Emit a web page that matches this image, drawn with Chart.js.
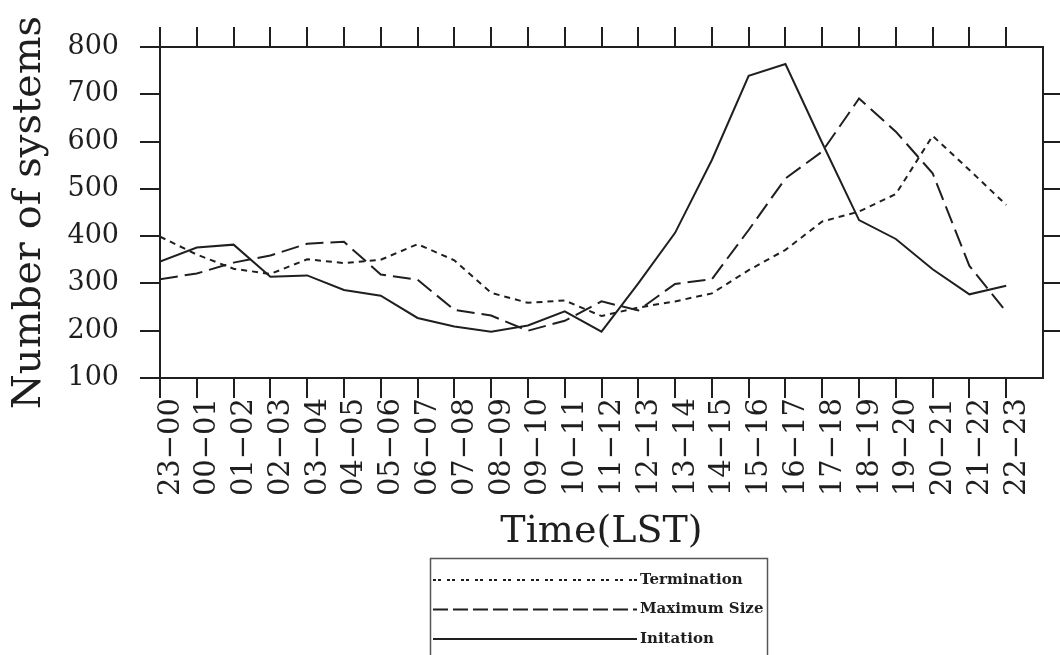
<!DOCTYPE html>
<html>
<head>
<meta charset="utf-8">
<script src="https://cdn.jsdelivr.net/npm/chart.js@4.4.1/dist/chart.umd.min.js"></script>
<style>
  html, body { margin: 0; padding: 0; background: #ffffff; }
  #wrap { width: 1060px; height: 655px; }
</style>
</head>
<body>
<div id="wrap"><canvas id="c" width="1060" height="655"></canvas></div>
<script>
// Hourly windows (local solar time)
const categories = [
  '23−00', '00−01', '01−02', '02−03', '03−04', '04−05', '05−06', '06−07',
  '07−08', '08−09', '09−10', '10−11', '11−12', '12−13', '13−14', '14−15',
  '15−16', '16−17', '17−18', '18−19', '19−20', '20−21', '21−22', '22−23'
];

// Number of systems per hour, by life-cycle stage
const termination = [399, 361, 331, 320, 351, 343, 350, 383, 349, 280, 259, 264,
                     231, 249, 262, 279, 328, 371, 431, 452, 489, 612, 540, 466];
const maximumSize = [309, 321, 344, 359, 384, 388, 319, 308, 244, 232, 200, 221,
                     262, 243, 299, 309, 413, 522, 579, 691, 621, 533, 337, 240];
const initiation  = [346, 376, 382, 314, 317, 286, 274, 227, 209, 198, 211, 241,
                     198, 300, 407, 561, 739, 764, 597, 434, 394, 330, 277, 295];

const yTicks = [100, 200, 300, 400, 500, 600, 700, 800];

const INK = '#1f1f1f';
const SERIF = "'DejaVu Serif', 'Liberation Serif', serif";
const HIDDEN = 'rgba(0,0,0,0)';

const asPoints = arr => arr.map((v, i) => ({ x: i, y: v }));
const xTickList = () => categories.map((c, i) => ({ value: i })).concat([{ value: categories.length }]);
const yTickList = () => yTicks.map(v => ({ value: v }));

// Horizontal axes: fixed height, no extra side padding from rotated labels
const fixHorizontal = h => s => { s.height = h; s.paddingLeft = 0; s.paddingRight = 0; };

// Boxed legend below the axis title
const legendBox = {
  id: 'legendBox',
  afterDraw(chart) {
    const { ctx } = chart;
    ctx.save();
    ctx.setLineDash([]);
    ctx.strokeStyle = '#555555';
    ctx.lineWidth = 1.5;
    ctx.strokeRect(430.5, 558.5, 337, 110);
    chart.data.datasets.forEach((ds, i) => {
      const y = 580 + i * 29.5;
      ctx.beginPath();
      ctx.setLineDash(ds.legendDash || []);
      ctx.lineWidth = 2;
      ctx.strokeStyle = INK;
      ctx.moveTo(433, y);
      ctx.lineTo(637, y);
      ctx.stroke();
      ctx.setLineDash([]);
      ctx.fillStyle = INK;
      ctx.font = "bold 15px 'DejaVu Serif'";
      ctx.textBaseline = 'middle';
      ctx.textAlign = 'left';
      ctx.fillText(ds.label, 640, y);
    });
    ctx.restore();
  }
};

const lineStyle = { borderColor: INK, borderWidth: 2, pointRadius: 0, tension: 0, fill: false };

new Chart(document.getElementById('c').getContext('2d'), {
  type: 'line',
  data: {
    datasets: [
      Object.assign({ label: 'Termination', data: asPoints(termination), borderDash: [6, 5], legendDash: [3, 2, 3, 6] }, lineStyle),
      Object.assign({ label: 'Maximum Size', data: asPoints(maximumSize), borderDash: [18, 7], legendDash: [15, 5] }, lineStyle),
      Object.assign({ label: 'Initation', data: asPoints(initiation), borderDash: [] }, lineStyle)
    ]
  },
  options: {
    responsive: false,
    animation: false,
    devicePixelRatio: 1,
    layout: { padding: { left: 0, right: 0, top: 0, bottom: 100 } },
    plugins: { legend: { display: false }, tooltip: { enabled: false } },
    scales: {
      x: {
        type: 'linear', position: 'bottom', min: 0, max: categories.length,
        afterBuildTicks: s => { s.ticks = xTickList(); },
        ticks: {
          autoSkip: false, minRotation: 90, maxRotation: 90, padding: 0, labelOffset: 11,
          color: INK, font: { family: SERIF, size: 29 },
          callback: v => categories[v] ?? ''
        },
        grid: {
          drawOnChartArea: false, tickLength: 20, lineWidth: 2,
          color: c => (c.tick && c.tick.value >= categories.length) ? HIDDEN : INK
        },
        border: { display: true, width: 2, color: INK },
        title: { display: true, text: 'Time(LST)', color: INK, font: { family: SERIF, size: 38 }, padding: { top: 0, bottom: 0 } },
        afterFit: fixHorizontal(177)
      },
      xTop: {
        type: 'linear', position: 'top', min: 0, max: categories.length,
        afterBuildTicks: s => { s.ticks = xTickList(); },
        ticks: { display: false },
        grid: {
          drawOnChartArea: false, tickLength: 20, lineWidth: 2,
          color: c => (c.tick && c.tick.value >= categories.length) ? HIDDEN : INK
        },
        border: { display: true, width: 2, color: INK },
        afterFit: fixHorizontal(47)
      },
      y: {
        type: 'linear', position: 'left', min: 100, max: 800,
        afterBuildTicks: s => { s.ticks = yTickList(); },
        ticks: { padding: 21, color: INK, font: { family: SERIF, size: 27 } },
        grid: { drawOnChartArea: false, tickLength: 20, lineWidth: 2, color: INK },
        border: { display: true, width: 2, color: INK },
        title: { display: true, text: 'Number of systems', color: INK, font: { family: SERIF, size: 40 }, padding: { top: 6, bottom: 0 } },
        afterFit: s => { s.width = 160; }
      },
      yRight: {
        type: 'linear', position: 'right', min: 100, max: 800,
        afterBuildTicks: s => { s.ticks = yTickList(); },
        ticks: { display: false },
        grid: {
          drawOnChartArea: false, tickLength: 17, lineWidth: 2,
          color: c => (c.tick && (c.tick.value === 100 || c.tick.value === 800)) ? HIDDEN : INK
        },
        border: { display: true, width: 2, color: INK },
        afterFit: s => { s.width = 17; }
      }
    }
  },
  plugins: [legendBox]
});
</script>
</body>
</html>
